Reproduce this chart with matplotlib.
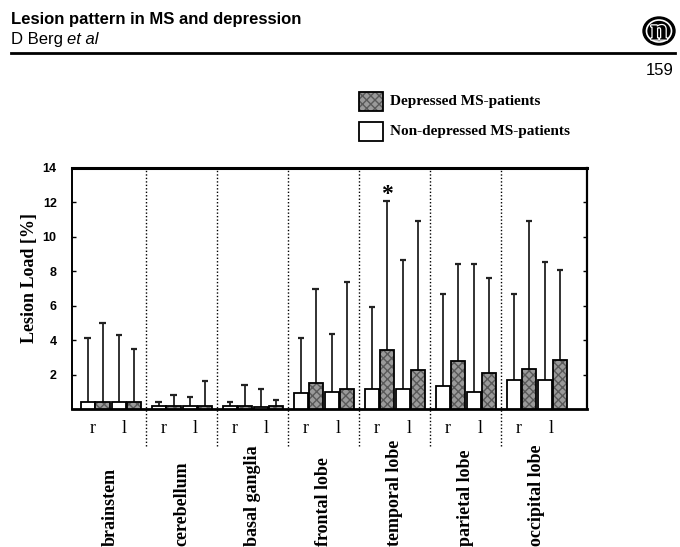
import matplotlib
matplotlib.use("Agg")
import matplotlib.pyplot as plt
import matplotlib.patheffects as pe
from matplotlib.patches import Ellipse, Rectangle
from matplotlib.lines import Line2D
import numpy as np

# ---------- data ----------
regions = ["brainstem", "cerebellum", "basal ganglia", "frontal lobe",
           "temporal lobe", "parietal lobe", "occipital lobe"]
sides = ["r", "l"]

# bar heights (mean lesion load, %)
nondep_r = [0.40, 0.15, 0.15, 0.93, 1.17, 1.33, 1.68]
dep_r    = [0.40, 0.15, 0.15, 1.50, 3.40, 2.80, 2.35]
nondep_l = [0.40, 0.15, 0.10, 1.00, 1.17, 1.00, 1.68]
dep_l    = [0.40, 0.15, 0.15, 1.15, 2.25, 2.10, 2.85]

# top of the error whiskers
nondep_r_up = [4.10, 0.40, 0.40, 4.10, 5.90, 6.70, 6.70]
dep_r_up    = [5.00, 0.80, 1.40, 6.95, 12.10, 8.40, 10.95]
nondep_l_up = [4.30, 0.70, 1.15, 4.35, 8.65, 8.40, 8.55]
dep_l_up    = [3.50, 1.60, 0.55, 7.35, 10.95, 7.60, 8.05]

yticks = [2, 4, 6, 8, 10, 12, 14]
significant = ("temporal lobe", "dep_r")

# ---------- style ----------
SERIF = ["Liberation Serif", "DejaVu Serif"]
SANS = ["Liberation Sans", "DejaVu Sans"]
GRAY = "#9a9a9a"
HATCH_EDGE = "#5a5a5a"
BAR_W = 0.2
offsets = {"nondep_r": 0.18, "dep_r": 0.39, "nondep_l": 0.62, "dep_l": 0.83}

fig = plt.figure(figsize=(6.8, 5.47), dpi=100)
ax = fig.add_axes([72 / 680, 1 - 409 / 547, (587 - 72) / 680, (409 - 168) / 547])

x0 = np.arange(len(regions))
series = [
    ("nondep_r", nondep_r, nondep_r_up, False),
    ("dep_r", dep_r, dep_r_up, True),
    ("nondep_l", nondep_l, nondep_l_up, False),
    ("dep_l", dep_l, dep_l_up, True),
]

for key, vals, ups, depressed in series:
    xs = x0 + offsets[key]
    vals = np.array(vals)
    ups = np.array(ups)
    # whiskers (upper only)
    ax.vlines(xs, vals, ups, color="#222222", lw=1.3, zorder=2)
    ax.hlines(ups, xs - 0.045, xs + 0.045, color="#222222", lw=1.6, zorder=2)
    if depressed:
        ax.bar(xs, vals, width=BAR_W, color=GRAY, edgecolor=HATCH_EDGE,
               hatch="xxxx", lw=0, zorder=3)
        ax.bar(xs, vals, width=BAR_W, facecolor="none", edgecolor="black",
               lw=1.3, zorder=4)
    else:
        ax.bar(xs, vals, width=BAR_W, color="white", edgecolor="black",
               lw=1.3, zorder=3)

# significance star
gi = regions.index(significant[0])
ax.text(gi + offsets[significant[1]], dep_r_up[gi] - 0.25, "*",
        ha="center", va="bottom", fontsize=17, fontweight="bold",
        family=SERIF)

ax.set_xlim(-0.04, 7.21)
ax.set_ylim(0, 14)

# dotted separators, running down past the r/l labels
for k in range(1, len(regions)):
    ax.add_line(Line2D([k, k], [-2.15, 14], color="black", lw=1,
                       ls=(0, (1, 1.5)), clip_on=False, zorder=1))

# r / l labels
for g in range(len(regions)):
    ax.text(g + 0.25, -1.15, sides[0], ha="center", va="center",
            fontsize=13, family=SERIF)
    ax.text(g + 0.70, -1.15, sides[1], ha="center", va="center",
            fontsize=13, family=SERIF)

# region labels, rotated, anchored at bottom
trans = matplotlib.transforms.blended_transform_factory(ax.transData, fig.transFigure)
for g, name in enumerate(regions):
    ax.text(g + 0.5, 1.5 / 547, name, rotation=90, ha="center", va="bottom",
            fontsize=13, fontweight="bold", family=SERIF, transform=trans)

ax.set_xticks([])
ax.set_yticks(yticks)
ax.set_yticklabels([str(t) for t in yticks], fontsize=9, fontweight="bold",
                   family=SANS)
ax.tick_params(axis="y", direction="in", length=3, width=1, right=True, pad=11)
for side, lw in [("top", 2.2), ("bottom", 2.0), ("left", 1.4), ("right", 1.6)]:
    ax.spines[side].set_linewidth(lw)

ax.set_ylabel("Lesion Load [%]", fontsize=13, fontweight="bold", family=SERIF,
              labelpad=3)
ax.yaxis.label.set_y((409 - 278) / 241)

# legend (hand-placed like the original)
fig.patches.append(Rectangle((359 / 680, 1 - 111 / 547), 24 / 680, 19 / 547,
                             transform=fig.transFigure, facecolor=GRAY,
                             edgecolor=HATCH_EDGE, hatch="xxxx", lw=0))
fig.patches.append(Rectangle((359 / 680, 1 - 111 / 547), 24 / 680, 19 / 547,
                             transform=fig.transFigure, facecolor="none",
                             edgecolor="black", lw=1.3))
fig.patches.append(Rectangle((359 / 680, 1 - 141 / 547), 24 / 680, 19 / 547,
                             transform=fig.transFigure, facecolor="white",
                             edgecolor="black", lw=1.3))
fig.text(390 / 680, 1 - 101 / 547, "Depressed MS-patients", fontsize=11,
         fontweight="bold", family=SERIF, va="center")
fig.text(390 / 680, 1 - 131 / 547, "Non-depressed MS-patients", fontsize=11,
         fontweight="bold", family=SERIF, va="center")

# page header
fig.text(11 / 680, 1 - 24 / 547, "Lesion pattern in MS and depression",
         fontsize=12, fontweight="bold", family=SANS, va="baseline")
fig.text(11 / 680, 1 - 44 / 547, "D Berg ", fontsize=12, family=SANS,
         va="baseline")
fig.text(67 / 680, 1 - 44 / 547, "et al", fontsize=12, family=SANS,
         style="italic", va="baseline")
fig.add_artist(Line2D([11 / 680, 675 / 680], [1 - 53 / 547, 1 - 53 / 547],
                      transform=fig.transFigure, color="black", lw=2))
fig.text(674 / 680, 1 - 75 / 547, "159", fontsize=12, family=SANS,
         ha="right", va="baseline")

# journal logo: black disc, thin white ring, black "n" with white outline
fig.patches.append(Ellipse((659 / 680, 1 - 31 / 547), 32 / 680, 28 / 547,
                           transform=fig.transFigure, color="black"))
fig.patches.append(Ellipse((659 / 680, 1 - 31 / 547), 25 / 680, 22 / 547,
                           transform=fig.transFigure, facecolor="none",
                           edgecolor="white", lw=1.2))
fig.text(659 / 680, 1 - 32 / 547, "n", fontsize=22, fontweight="bold",
         family=SERIF, ha="center", va="center", color="black",
         path_effects=[pe.withStroke(linewidth=1.8, foreground="white")])

fig.savefig("out.png", dpi=100)
